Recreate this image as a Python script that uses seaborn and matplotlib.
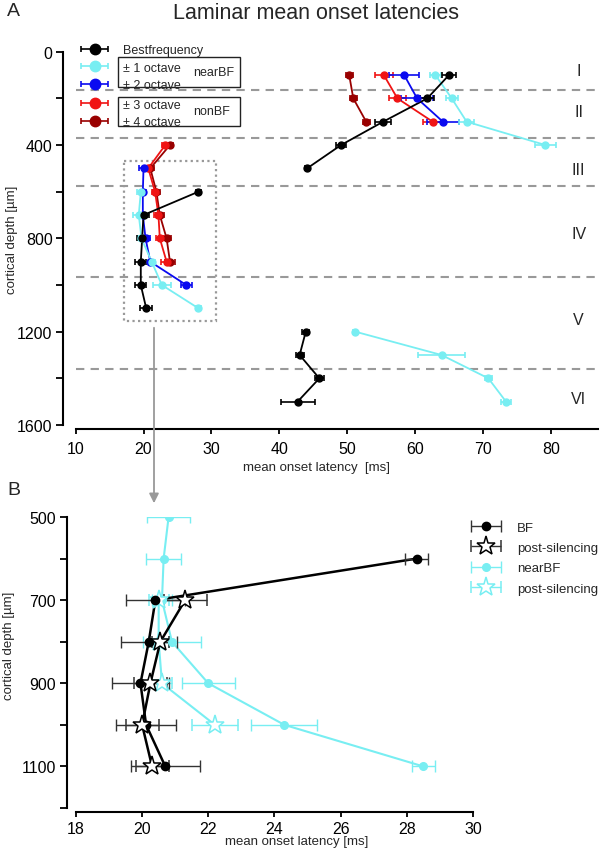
import matplotlib

matplotlib.use("Agg")
import matplotlib.pyplot as plt  # noqa: E402
import pandas as pd  # noqa: E402
import seaborn as sns  # noqa: E402
from matplotlib.legend_handler import HandlerErrorbar  # noqa: E402
from matplotlib.patches import Rectangle  # noqa: E402
from matplotlib.ticker import FixedLocator  # noqa: E402

# ---- panel A: laminar onset latencies (segments per series) ----
BF_DEPTH = [[100, 200, 300, 400, 500], [600, 700, 800, 900, 1000, 1100], [1200, 1300, 1400, 1500]]
BF_LAT = [[65.0, 61.8, 55.3, 49.1, 44.1], [28.1, 20.0, 19.8, 19.6, 19.6, 20.4], [43.9, 43.0, 45.9, 42.7]]
BF_ERR = [[1.0, 1.0, 1.2, 0.8, 0.3], [0.3, 0.8, 0.8, 0.8, 0.8, 0.9], [0.5, 0.6, 0.7, 2.5]]

OCT1_DEPTH = [[100, 200, 300, 400], [600, 700, 800, 900, 1000, 1100], [1200, 1300, 1400, 1500]]
OCT1_LAT = [[63.0, 65.4, 67.6, 79.2], [19.6, 19.3, 19.7, 21.2, 22.7, 28.1], [51.2, 63.9, 70.8, 73.4]]
OCT1_ERR = [[0.8, 0.9, 1.1, 1.6], [0.5, 0.8, 0.5, 0.5, 1.3, 0.3], [0.3, 3.4, 0.5, 0.8]]

OCT2_DEPTH = [[100, 200, 300], [500, 600, 700, 800, 900, 1000]]
OCT2_LAT = [[58.4, 60.3, 64.1], [20.0, 19.9, 19.9, 20.3, 21.0, 26.3]]
OCT2_ERR = [[2.2, 2.3, 2.3], [0.6, 0.4, 0.4, 0.6, 0.4, 0.85]]

OCT3_DEPTH = [[100, 200, 300], [400, 500, 600, 700, 800, 900]]
OCT3_LAT = [[55.4, 57.4, 62.6], [23.2, 20.7, 21.7, 22.2, 22.4, 23.4]]
OCT3_ERR = [[1.3, 1.3, 1.5], [0.5, 0.5, 0.5, 0.6, 0.6, 0.8]]

OCT4_DEPTH = [[100, 200, 300], [400, 500, 600, 700, 800, 900]]
OCT4_LAT = [[50.3, 50.9, 52.8], [23.9, 21.0, 21.9, 22.4, 23.4, 23.9]]
OCT4_ERR = [[0.5, 0.5, 0.5], [0.4, 0.5, 0.5, 0.6, 0.6, 0.8]]

LAYER_BOUNDS = [165, 370, 575, 965, 1360]
LAYER_NAMES = ["I", "II", "III", "IV", "V", "VI"]
LAYER_LABEL_DEPTH = [80, 258, 505, 781, 1149, 1485]
ZOOM_BOX = (17.1, 467, 30.7, 1156)  # x0, y0, x1, y1 of the dotted inset box

# ---- panel B: BF / nearBF before and after silencing ----
B_BF_DEPTH = [600, 700, 800, 900, 1000, 1100]
B_BF_LAT = [28.3, 20.4, 20.2, 19.95, 20.12, 20.7]
B_BF_ERR = [0.35, 0.9, 0.85, 0.85, 0.9, 1.05]

B_BF_SIL_DEPTH = [700, 800, 900, 1000, 1100]
B_BF_SIL_LAT = [21.3, 20.55, 20.25, 20.0, 20.3]
B_BF_SIL_ERR = [0.65, 0.25, 0.5, 0.5, 0.5]

B_NEAR_DEPTH = [500, 600, 700, 800, 900, 1000, 1100]
B_NEAR_LAT = [20.8, 20.65, 20.6, 20.9, 22.0, 24.3, 28.5]
B_NEAR_ERR = [0.65, 0.53, 0.3, 0.87, 0.8, 1.0, 0.35]

B_NEAR_SIL_DEPTH = [700, 800, 900, 1000]
B_NEAR_SIL_LAT = [20.5, 20.5, 20.6, 22.2]
B_NEAR_SIL_ERR = [0.3, 0.3, 0.3, 0.7]

BLACK = "#000000"
CYAN = "#78EEF2"
BLUE = "#0A0AF0"
RED = "#F01414"
DARKRED = "#990000"
GREY = "#999999"
EGREY = "#333333"

sns.set_theme(style="ticks", rc={"axes.edgecolor": "black", "xtick.color": "black",
                                 "ytick.color": "black", "axes.linewidth": 1.5})
plt.rcParams["font.family"] = ["Liberation Sans", "DejaVu Sans"]


def long_frame(name, depths, lats, errs):
    rows = []
    for seg, (d, l, e) in enumerate(zip(depths, lats, errs)):
        for di, li, ei in zip(d, l, e):
            rows.append({"series": name, "segment": f"{name}-{seg}", "depth": di, "latency": li, "err": ei})
    return pd.DataFrame(rows)


def style_axis(ax, xticks, ymajor, yminor, left_off, bottom_off, xbound, xpad):
    sns.despine(ax=ax, offset={"left": left_off, "bottom": bottom_off})
    ax.set_xticks(xticks)
    ax.yaxis.set_major_locator(FixedLocator(ymajor))
    ax.yaxis.set_minor_locator(FixedLocator(yminor))
    ax.spines["bottom"].set_bounds(*xbound)
    ax.tick_params(axis="y", which="both", direction="out", length=5.2, width=1.3, labelsize=11.5, pad=2.5)
    ax.tick_params(axis="x", which="both", direction="out", length=3.8, width=1.3, labelsize=11.5, pad=xpad)


fig = plt.figure(figsize=(6.05, 8.53), dpi=100)
ax_a = fig.add_axes([0.125, 0.5006, 0.864, 0.4376])
ax_b = fig.add_axes([0.1256, 0.0516, 0.656, 0.3411])

# ---------------- panel A ----------------
series_a = [
    ("Bestfrequency", BF_DEPTH, BF_LAT, BF_ERR, BLACK),
    ("± 1 octave", OCT1_DEPTH, OCT1_LAT, OCT1_ERR, CYAN),
    ("± 2 octave", OCT2_DEPTH, OCT2_LAT, OCT2_ERR, BLUE),
    ("± 3 octave", OCT3_DEPTH, OCT3_LAT, OCT3_ERR, RED),
    ("± 4 octave", OCT4_DEPTH, OCT4_LAT, OCT4_ERR, DARKRED),
]
df_a = pd.concat([long_frame(n, d, l, e) for n, d, l, e, _ in series_a], ignore_index=True)
palette_a = {n: c for n, _, _, _, c in series_a}

for b in LAYER_BOUNDS:
    ax_a.axhline(b, color=GREY, lw=1.5, dashes=(4, 3), zorder=0)

# draw later series first so black sits on top
for name in [s[0] for s in series_a][::-1]:
    sub = df_a[df_a["series"] == name]
    sns.lineplot(data=sub, x="latency", y="depth", units="segment", estimator=None, sort=False,
                 color=palette_a[name], lw=1.3, legend=False, ax=ax_a)

handles_a = {}
for name in [s[0] for s in series_a][::-1]:
    sub = df_a[df_a["series"] == name]
    handles_a[name] = ax_a.errorbar(sub["latency"], sub["depth"], xerr=sub["err"], fmt="o",
                                    color=palette_a[name], ms=5, elinewidth=1.2, capsize=2.5,
                                    capthick=1.2, label=name)

ax_a.add_patch(Rectangle((ZOOM_BOX[0], ZOOM_BOX[1]), ZOOM_BOX[2] - ZOOM_BOX[0], ZOOM_BOX[3] - ZOOM_BOX[1],
                         fill=False, ec=GREY, lw=1.6, ls=(0, (1, 1.5))))

for name, depth in zip(LAYER_NAMES, LAYER_LABEL_DEPTH):
    ax_a.text(84.1, depth, name, ha="center", va="center", fontsize=11.5)

ax_a.set_xlim(10, 87)
ax_a.set_ylim(1600, 0)
style_axis(ax_a, [10, 20, 30, 40, 50, 60, 70, 80], [0, 400, 800, 1200, 1600],
           [200, 600, 1000, 1400], 8.9, 2.9, (10, 87), 5.0)
ax_a.set_xlabel("mean onset latency  [ms]", fontsize=9.5)
ax_a.xaxis.set_label_coords(0.46, -0.097)
ax_a.set_ylabel("cortical depth [µm]", fontsize=9.5)
ax_a.yaxis.set_label_coords(-0.110, 0.5)

leg_kw = dict(loc="upper left", frameon=False, fontsize=9, handlelength=2.32, handletextpad=1.1,
              labelspacing=0.42, borderpad=0, borderaxespad=0, markerscale=1.5,
              handler_map={type(handles_a["Bestfrequency"]): HandlerErrorbar(xerr_size=1.1)})
names1 = ["Bestfrequency", "± 1 octave", "± 2 octave"]
names2 = ["± 3 octave", "± 4 octave"]
leg1 = ax_a.legend([handles_a[n] for n in names1], names1, bbox_to_anchor=(0.0084, 1.0196), **leg_kw)
ax_a.add_artist(leg1)
ax_a.legend([handles_a[n] for n in names2], names2, bbox_to_anchor=(0.0084, 0.874), **leg_kw)
for y0, y1, tag in [(0.9046, 0.985, "nearBF"), (0.8002, 0.8795, "nonBF")]:
    ax_a.add_patch(Rectangle((0.0811, y0), 0.2334, y1 - y0, transform=ax_a.transAxes, fill=False,
                             ec="#222222", lw=1.0, clip_on=False))
    ax_a.text(0.2246, (y0 + y1) / 2, tag, transform=ax_a.transAxes, ha="left", va="center", fontsize=9)

# ---------------- panel B ----------------
series_b = [
    ("nearBF", B_NEAR_DEPTH, B_NEAR_LAT, B_NEAR_ERR, CYAN, "o"),
    ("nearBF post-silencing", B_NEAR_SIL_DEPTH, B_NEAR_SIL_LAT, B_NEAR_SIL_ERR, CYAN, "*"),
    ("BF", B_BF_DEPTH, B_BF_LAT, B_BF_ERR, BLACK, "o"),
    ("BF post-silencing", B_BF_SIL_DEPTH, B_BF_SIL_LAT, B_BF_SIL_ERR, BLACK, "*"),
]
df_b = pd.concat([long_frame(n, [d], [l], [e]) for n, d, l, e, _, _ in series_b], ignore_index=True)

handles_b = {}
for name, _, _, _, color, marker in series_b:
    sub = df_b[df_b["series"] == name]
    black = color == BLACK
    sns.lineplot(data=sub, x="latency", y="depth", estimator=None, sort=False, color=color,
                 lw=1.8 if black else 1.5, legend=False, ax=ax_b)
    ecol = EGREY if black else CYAN
    if marker == "o":
        handles_b[name] = ax_b.errorbar(sub["latency"], sub["depth"], xerr=sub["err"], fmt="o", color=color,
                                        ecolor=ecol, ms=6 if black else 5.5, elinewidth=1.0, capsize=4,
                                        capthick=1.0)
    else:
        handles_b[name] = ax_b.errorbar(sub["latency"], sub["depth"], xerr=sub["err"], fmt="*", color=color,
                                        mfc="white", mec=color, mew=1.1, ecolor=ecol, ms=14,
                                        elinewidth=1.0, capsize=4, capthick=1.0)

ax_b.set_xlim(18, 30)
ax_b.set_ylim(1200, 500)
style_axis(ax_b, [18, 20, 22, 24, 26, 28, 30], [500, 700, 900, 1100], [600, 800, 1000, 1200],
           6.7, 2.9, (18, 30), 2.5)
ax_b.set_xlabel("mean onset latency [ms]", fontsize=9.5)
ax_b.xaxis.set_label_coords(0.557, -0.093)
ax_b.set_ylabel("cortical depth [µm]", fontsize=9.5)
ax_b.yaxis.set_label_coords(-0.154, 0.56)
ax_b.legend([handles_b["BF"], handles_b["BF post-silencing"], handles_b["nearBF"],
             handles_b["nearBF post-silencing"]],
            ["BF", "post-silencing", "nearBF", "post-silencing"], loc="upper left",
            bbox_to_anchor=(0.995, 0.985), frameon=False, fontsize=9.5, handlelength=2.3,
            handletextpad=1.2, labelspacing=0.62, borderpad=0, borderaxespad=0,
            handler_map={type(handles_b["BF"]): HandlerErrorbar(xerr_size=1.15)})

# ---------------- annotations ----------------
fig.text(0.522, 0.997, "Laminar mean onset latencies", ha="center", va="top", fontsize=15.5)
fig.text(0.012, 0.997, "A", ha="left", va="top", fontsize=14)
fig.text(0.012, 0.435, "B", ha="left", va="top", fontsize=14)
ax_a.annotate("", xy=(154 / 605, 1 - 507 / 853), xycoords="figure fraction",
              xytext=(154 / 605, 1 - 326 / 853), textcoords="figure fraction",
              arrowprops=dict(arrowstyle="-|>", color=GREY, lw=1.3, mutation_scale=14),
              annotation_clip=False)

fig.savefig("out.png", dpi=100, facecolor="white")
